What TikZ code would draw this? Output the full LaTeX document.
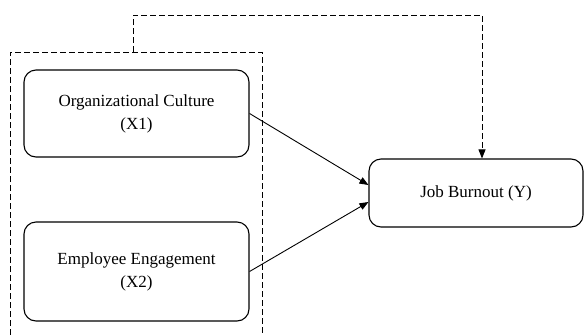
\documentclass[tikz,border=0pt]{standalone}
\usepackage{fontspec}
\setmainfont{Liberation Serif}
\usepackage{tikz}
\usetikzlibrary{arrows.meta,positioning,calc}

\begin{document}
\begin{tikzpicture}[x=1pt, y=-1pt,
  varbox/.style={draw, line width=1.1pt, rounded corners=12pt, align=center,
    font=\fontsize{17}{23}\selectfont, inner sep=0pt},
  link/.style={line width=0.9pt, -{Triangle[length=9pt, width=7pt]}},
  groupline/.style={line width=0.9pt, dash pattern=on 6pt off 3pt}]
  \useasboundingbox (0,0) rectangle (585,335);
  % independent variables
  \node[varbox, minimum width=225pt, minimum height=87pt] (oc) at (136.5,113.5) {Organizational Culture\\(X1)};
  \node[varbox, minimum width=225pt, minimum height=99pt] (ee) at (136.5,271.5) {Employee Engagement\\(X2)};
  % dependent variable
  \node[varbox, minimum width=214pt, minimum height=68pt] (jb) at (476,193) {Job Burnout (Y)};
  % dashed group around X1 and X2
  \coordinate (gtop) at (133,52);
  \draw[groupline] (10,335) -- (10,52) -- (262,52) -- (262,335);
  \draw[groupline, -{Triangle[length=9pt, width=7pt]}] (gtop) -- (133,15) -| ([xshift=6pt]jb.north);
  % direct effects
  \draw[link] (oc.east) -- ([yshift=8pt]jb.west);
  \draw[link] (ee.east) -- ([yshift=-9pt]jb.west);
\end{tikzpicture}
\end{document}
